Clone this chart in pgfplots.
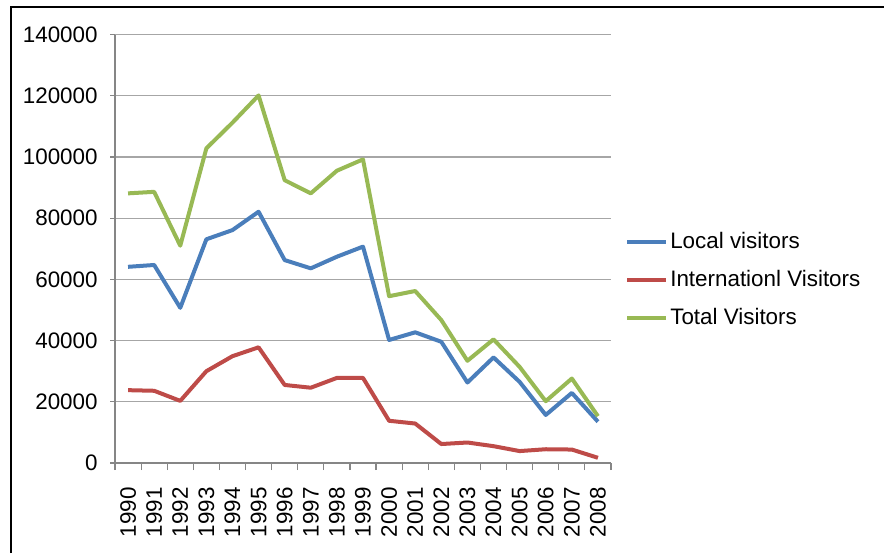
\documentclass[border=0pt]{standalone}
\usepackage{pgfplots}
\pgfplotsset{compat=1.18}
\usepackage{fontspec}
\setmainfont{Liberation Sans}
\definecolor{cBlue}{HTML}{4A7EBB}
\definecolor{cRed}{HTML}{BE4B48}
\definecolor{cGreen}{HTML}{98B954}
\definecolor{cGrid}{HTML}{A6A6A6}
\definecolor{cAxis}{HTML}{868686}
\pgfplotstableread{
x local intl total
0 64100 23800 88100
1 64700 23600 88600
2 50700 20300 71000
3 73100 30000 102800
4 76100 34900 111200
5 82100 37800 120100
6 66300 25500 92400
7 63600 24600 88100
8 67400 27800 95500
9 70700 27800 99200
10 40200 13800 54500
11 42700 12900 56200
12 39600 6200 46700
13 26300 6700 33400
14 34500 5500 40400
15 26500 3900 31400
16 15700 4500 20200
17 22900 4400 27600
18 13500 1700 15300
}\datatable
\begin{document}
\begin{tikzpicture}
\useasboundingbox (0,0) rectangle (442pt,-276.5pt);
\draw[black,line width=0.8pt] (5.5pt,-276.5pt) -- (5.5pt,-3.5pt) -- (442pt,-3.5pt);
\begin{axis}[
  at={(57.5pt,-231.5pt)}, anchor=south west,
  scale only axis,
  width=248pt, height=214.25pt,
  xmin=-0.5, xmax=18.5,
  ymin=0, ymax=140000,
  ytick={0,20000,...,140000},
  scaled y ticks=false,
  yticklabel style={/pgf/number format/fixed,/pgf/number format/1000 sep={}},
  /pgf/number format/assume math mode=true,
  xtick={0,...,18},
  xticklabels={1990,1991,1992,1993,1994,1995,1996,1997,1998,1999,2000,2001,2002,2003,2004,2005,2006,2007,2008},
  minor xtick={-0.5,0.5,...,18.5},
  axis x line*=bottom, axis y line*=left,
  axis line style={cAxis, line width=0.6pt},
  tick align=outside,
  major tick length=2.5pt,
  minor tick length=3.5pt,
  major x tick style={draw=none},
  minor x tick style={cAxis, line width=0.6pt},
  major y tick style={cAxis, line width=0.6pt},
  ymajorgrids,
  major grid style={cGrid, line width=0.6pt},
  tick label style={font=\fontsize{11.2}{13}\selectfont},
  xticklabel style={yshift=-9.5pt, rotate=90, anchor=east, inner sep=0pt},
  yticklabel style={anchor=east, inner sep=0pt, xshift=-6pt},
  legend style={draw=none, fill=none, at={(1.028,0.427)}, anchor=west,
    font=\fontsize{11.2}{13}\selectfont, inner xsep=0pt, inner ysep=0pt,
    row sep=5.3pt, nodes={inner xsep=1pt}},
  legend cell align=left,
  legend image code/.code={\draw[#1] (0pt,0pt) -- (19.5pt,0pt);},
  every axis plot/.append style={line width=2pt, line join=round},
]
\addplot[cBlue, no markers] table[x=x,y=local] {\datatable};
\addplot[cRed, no markers] table[x=x,y=intl] {\datatable};
\addplot[cGreen, no markers] table[x=x,y=total] {\datatable};
\legend{Local visitors, Internationl Visitors, Total Visitors}
\end{axis}
\end{tikzpicture}
\end{document}
